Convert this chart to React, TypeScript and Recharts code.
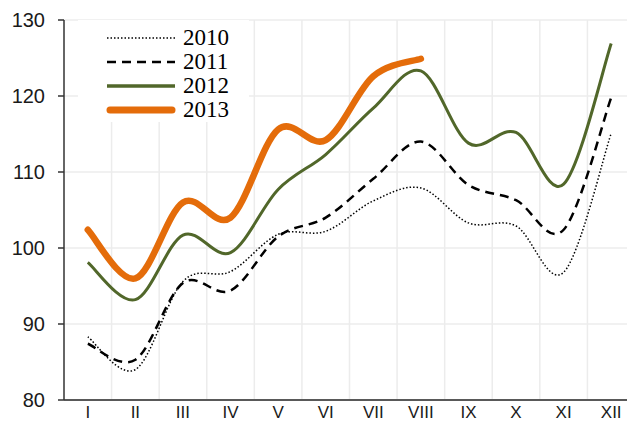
import { LineChart, Line, XAxis, YAxis, CartesianGrid, Legend } from "recharts";

const months = ["I", "II", "III", "IV", "V", "VI", "VII", "VIII", "IX", "X", "XI", "XII"];
const y2010 = [88.3, 84.0, 95.6, 96.9, 101.8, 102.2, 106.2, 107.9, 103.3, 102.9, 96.8, 115.1];
const y2011 = [87.4, 85.3, 95.4, 94.4, 101.5, 104.0, 109.1, 114.0, 108.3, 106.3, 102.4, 119.8];
const y2012 = [98.1, 93.2, 101.7, 99.4, 107.7, 112.3, 118.4, 123.3, 113.8, 115.2, 108.4, 126.9];
const y2013 = [102.4, 96.0, 106.0, 104.0, 115.6, 114.2, 122.6, 124.9];
const yTicks = [80, 90, 100, 110, 120, 130];

const data = months.map((m, i) => ({
  m,
  a: y2010[i],
  b: y2011[i],
  c: y2012[i],
  d: i < y2013.length ? y2013[i] : null,
}));

// Excel-like smoothing (Catmull-Rom through the points)
function smooth(ctx: any) {
  let pts: number[][] = [];
  return {
    areaStart() {},
    areaEnd() {},
    lineStart() {
      pts = [];
    },
    point(x: number, y: number) {
      pts.push([+x, +y]);
    },
    lineEnd() {
      if (!pts.length) return;
      ctx.moveTo(pts[0][0], pts[0][1]);
      for (let i = 0; i < pts.length - 1; i++) {
        const p0 = pts[i - 1] || pts[i];
        const p1 = pts[i];
        const p2 = pts[i + 1];
        const p3 = pts[i + 2] || p2;
        ctx.bezierCurveTo(
          p1[0] + (p2[0] - p0[0]) / 6,
          p1[1] + (p2[1] - p0[1]) / 6,
          p2[0] - (p3[0] - p1[0]) / 6,
          p2[1] - (p3[1] - p1[1]) / 6,
          p2[0],
          p2[1]
        );
      }
    },
  };
}

const series = [
  { key: "a", name: "2010", color: "#000", width: 1.5, dash: "1.5 2" },
  { key: "b", name: "2011", color: "#000", width: 2.5, dash: "9 6" },
  { key: "c", name: "2012", color: "#51672a", width: 3, dash: undefined },
  { key: "d", name: "2013", color: "#e46c0a", width: 6.5, dash: undefined },
];

function LegendBox() {
  return (
    <div style={{ paddingTop: 6 }}>
      {series.map((s) => (
        <div key={s.key} style={{ display: "flex", alignItems: "center", height: 24 }}>
          <svg width={105} height={24}>
            <line
              x1={s.key === "d" ? 32 : 29}
              x2={s.key === "d" ? 94 : 97}
              y1={12}
              y2={12}
              stroke={s.color}
              strokeWidth={s.key === "d" ? 7 : s.key === "c" ? 3.5 : s.width}
              strokeDasharray={s.dash}
              strokeLinecap={s.key === "d" ? "round" : "butt"}
            />
          </svg>
          <span
            style={{
              fontFamily: "'Liberation Serif', 'Times New Roman', serif",
              fontSize: 23,
              lineHeight: "24px",
              color: "#000",
            }}
          >
            {s.name}
          </span>
        </div>
      ))}
    </div>
  );
}

export default function App() {
  return (
    <div
      style={{
        position: "absolute",
        left: 0,
        top: 0,
        width: 627,
        height: 421,
        overflow: "hidden",
        background: "#fff",
      }}
    >
      <LineChart width={640} height={421} data={data} margin={{ top: 20, right: 5, left: 0, bottom: 0 }}>
        <CartesianGrid
          stroke="#ececec"
          strokeWidth={1.5}
          verticalCoordinatesGenerator={({ offset }: any) =>
            months.slice(1).map((_, i) => offset.left + ((i + 1) * offset.width) / months.length)
          }
        />
        <XAxis
          dataKey="m"
          scale="band"
          height={21}
          tickLine={false}
          tickSize={0}
          tickMargin={6}
          axisLine={{ stroke: "#595959", strokeWidth: 2 }}
          tick={{ fontSize: 17, fill: "#1a1a1a", fontFamily: "'Liberation Sans', Arial, sans-serif" }}
          interval={0}
        />
        <YAxis
          width={64}
          domain={[80, 130]}
          ticks={yTicks}
          interval={0}
          tickSize={6}
          tickMargin={13}
          axisLine={{ stroke: "#333", strokeWidth: 1.5 }}
          tickLine={{ stroke: "#333", strokeWidth: 1.5 }}
          tick={{ fontSize: 20, fill: "#1a1a1a", fontFamily: "'Liberation Sans', Arial, sans-serif" }}
        />
        <Legend
          layout="vertical"
          align="center"
          verticalAlign="middle"
          wrapperStyle={{ left: 78, top: 20, width: 171, height: 102, backgroundColor: "#fff" }}
          content={() => <LegendBox />}
        />
        {series.map((s) => (
          <Line
            key={s.key}
            dataKey={s.key}
            name={s.name}
            type={smooth as any}
            stroke={s.color}
            strokeWidth={s.width}
            strokeDasharray={s.dash}
            strokeLinecap={s.key === "d" ? "round" : "butt"}
            dot={false}
            activeDot={false}
            isAnimationActive={false}
          />
        ))}
      </LineChart>
    </div>
  );
}
